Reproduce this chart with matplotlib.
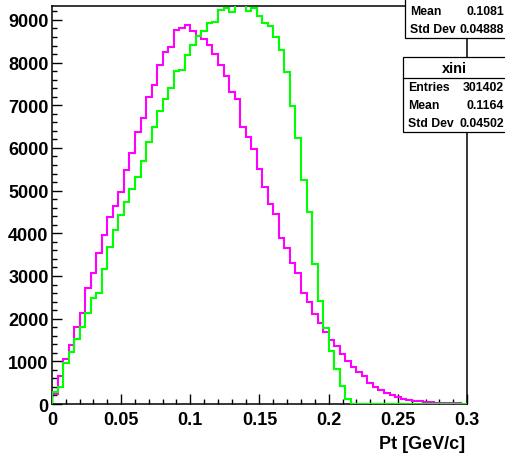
"""
Pt spectrum comparison - two histograms overlaid ROOT style.
"""

import numpy as np
import matplotlib
matplotlib.use("Agg")
import matplotlib.pyplot as plt
from matplotlib.patches import Rectangle
from matplotlib.lines import Line2D

# 75 bins from 0 to 0.3 GeV/c
pt_min = 0.0
pt_max = 0.3
n_bins = 75

# magenta histogram (drawn first, sets the axis range)
reco_counts = [234, 663, 1055, 1383, 1812, 2125, 2711, 3070, 3531, 3961,
               4375, 4648, 4976, 5492, 5883, 6367, 6703, 7202, 7476, 7945,
               8242, 8359, 8773, 8805, 8882, 8734, 8625, 8546, 8414, 8203,
               7945, 7687, 7319, 7136, 6499, 6250, 5976, 5500, 5090, 4687,
               4441, 3883, 3652, 3297, 3066, 2594, 2398, 2109, 1898, 1688,
               1507, 1366, 1172, 1000, 859, 742, 645, 500, 410, 335,
               255, 210, 168, 125, 95, 75, 60, 50, 42, 35,
               28, 22, 18, 14, 10]

# green histogram (xini)
xini_counts = [290, 390, 960, 1211, 1523, 1797, 2125, 2484, 2594, 3164,
               3672, 4085, 4430, 4742, 5039, 5327, 5688, 6148, 6484, 6874,
               7148, 7398, 7812, 7828, 8179, 8421, 8632, 8734, 8929, 8960,
               9241, 9273, 9180, 9650, 9600, 9219, 9273, 9086, 8929, 8851,
               8609, 8296, 7773, 6991, 6226, 5257, 4492, 3273, 2421, 1774,
               1235, 830, 420, 125, 10, 0, 0, 0, 0, 0,
               0, 0, 0, 0, 0, 0, 0, 0, 0, 0,
               0, 0, 0, 0, 0]

# stat box contents (the top box only shows its last two rows)
reco_stats = [("Mean", "0.1081"), ("Std Dev", "0.04888")]
xini_title = "xini"
xini_stats = [("Entries", "301402"), ("Mean", "0.1164"), ("Std Dev", "0.04502")]

x_ticks = [0, 0.05, 0.1, 0.15, 0.2, 0.25, 0.3]
x_tick_labels = ["0", "0.05", "0.1", "0.15", "0.2", "0.25", "0.3"]
y_ticks = [0, 1000, 2000, 3000, 4000, 5000, 6000, 7000, 8000, 9000]
x_title = "Pt [GeV/c]"

W, H = 506, 456
FONT = "Liberation Sans"


def fx(px):
    return px / W


def fy(py):
    return 1 - py / H


def draw_stat_box(fig, left, box_top, rows_top, bottom, title, rows):
    """ROOT-like stat box in pixel coords (may stick out of the figure)"""
    right = W + 2
    fig.patches.append(Rectangle((fx(left), fy(bottom)), fx(right - left), (bottom - box_top) / H,
                                 transform=fig.transFigure, facecolor="white",
                                 edgecolor="black", linewidth=0.9, zorder=5))
    y = rows_top
    if title:
        fig.text(fx((left + W) / 2), fy(y + 11), title, ha="center", va="center",
                 fontsize=10.5, fontweight="bold", family=FONT, zorder=6)
        y += 21
        fig.lines.append(Line2D([fx(left), fx(right)], [fy(y), fy(y)],
                                transform=fig.transFigure, color="black",
                                linewidth=0.9, zorder=6))
    for name, val in rows:
        fig.text(fx(left + 5), fy(y + 9), name, ha="left", va="center",
                 fontsize=8.8, fontweight="bold", family=FONT, zorder=6)
        fig.text(fx(W - 2), fy(y + 9), val, ha="right", va="center",
                 fontsize=8.8, fontweight="bold", family=FONT, zorder=6)
        y += 18


def main():
    edges = np.linspace(pt_min, pt_max, n_bins + 1)

    fig = plt.figure(figsize=(W / 100, H / 100), dpi=100)
    ax = fig.add_axes([fx(52), fy(405), fx(467 - 52), (405 - 7) / H])

    ax.stairs(reco_counts, edges, color="#ff00ff", linewidth=1.5, zorder=3)
    ax.stairs(xini_counts, edges, color="#00ff00", linewidth=1.5, zorder=3)

    ax.set_xlim(pt_min, pt_max)
    ax.set_ylim(0, 1.05 * max(reco_counts))

    ax.set_xticks(x_ticks)
    ax.set_xticklabels(x_tick_labels)
    ax.set_xticks(np.arange(0, 0.3001, 0.01), minor=True)
    ax.set_yticks(y_ticks)
    ax.set_yticklabels([str(v) for v in y_ticks])
    ax.set_yticks(np.arange(0, 9324, 200), minor=True)

    ax.tick_params(which="both", direction="in", top=False, right=False, width=1.0)
    ax.tick_params(which="major", length=7)
    ax.tick_params(which="minor", length=3.6)
    ax.tick_params(axis="x", which="major", pad=5)
    ax.tick_params(axis="y", which="major", pad=2.5)
    for lab in ax.get_xticklabels() + ax.get_yticklabels():
        lab.set_fontweight("bold")
        lab.set_family(FONT)
        lab.set_fontsize(13)

    for sp in ax.spines.values():
        sp.set_linewidth(1.1)

    fig.text(fx(465), fy(445), x_title, ha="right", va="center",
             fontsize=13, fontweight="bold", family=FONT)

    # stat boxes: the first one is cut by the top of the canvas
    draw_stat_box(fig, 405, -36, 3, 39, None, reco_stats)
    draw_stat_box(fig, 403, 58, 58, 133, xini_title, xini_stats)

    fig.savefig("out.png", dpi=100)
    print("Saved out.png")


if __name__ == "__main__":
    main()
